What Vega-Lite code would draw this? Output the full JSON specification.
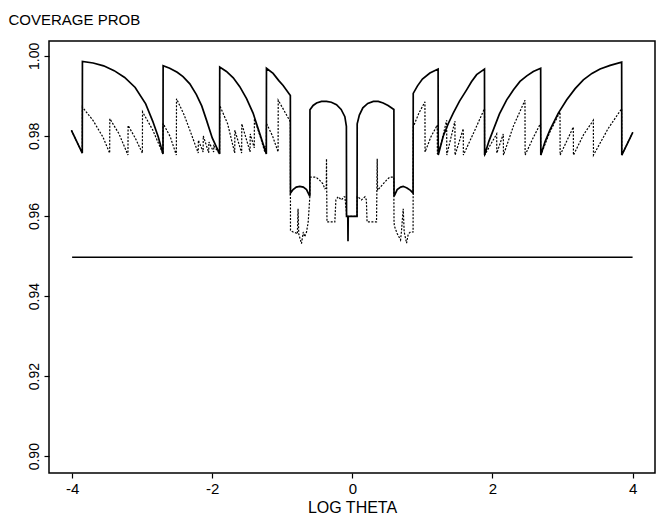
{
  "$schema": "https://vega.github.io/schema/vega-lite/v6.json",
  "width": 606,
  "height": 432,
  "autosize": {"type": "none"},
  "padding": {"left": 49, "top": 41, "right": 5, "bottom": 48},
  "background": "white",
  "config": {
    "view": {"stroke": "black", "strokeWidth": 1.5},
    "font": "Liberation Sans",
    "axis": {"grid": false, "domain": false, "tickColor": "black", "tickWidth": 1.2, "labelColor": "black", "titleColor": "black", "labelFont": "Liberation Sans", "titleFont": "Liberation Sans", "titleFontWeight": "normal"}
  },
  "datasets": {
    "solid": [
      {"x": -4.01, "y": 0.9814}, {"x": -3.855, "y": 0.9757}, {"x": -3.853, "y": 0.9986},
      {"x": -3.70, "y": 0.9982}, {"x": -3.55, "y": 0.9975}, {"x": -3.40, "y": 0.9963},
      {"x": -3.25, "y": 0.9946}, {"x": -3.10, "y": 0.9921}, {"x": -2.95, "y": 0.9880},
      {"x": -2.85, "y": 0.9837}, {"x": -2.77, "y": 0.9797}, {"x": -2.703, "y": 0.9755},
      {"x": -2.701, "y": 0.9975}, {"x": -2.607, "y": 0.9969}, {"x": -2.50, "y": 0.9959},
      {"x": -2.417, "y": 0.9948}, {"x": -2.32, "y": 0.9930}, {"x": -2.226, "y": 0.9903},
      {"x": -2.15, "y": 0.9875}, {"x": -2.083, "y": 0.9840}, {"x": -2.0, "y": 0.9795},
      {"x": -1.895, "y": 0.9755}, {"x": -1.893, "y": 0.9972}, {"x": -1.797, "y": 0.9961},
      {"x": -1.70, "y": 0.9945}, {"x": -1.607, "y": 0.9923}, {"x": -1.51, "y": 0.9893},
      {"x": -1.417, "y": 0.9857}, {"x": -1.33, "y": 0.9810}, {"x": -1.228, "y": 0.9755},
      {"x": -1.226, "y": 0.9969}, {"x": -1.131, "y": 0.9956}, {"x": -1.05, "y": 0.9938},
      {"x": -0.988, "y": 0.9926}, {"x": -0.885, "y": 0.9901}, {"x": -0.883, "y": 0.9657},
      {"x": -0.846, "y": 0.9666}, {"x": -0.80, "y": 0.9672}, {"x": -0.75, "y": 0.9674},
      {"x": -0.70, "y": 0.9672}, {"x": -0.654, "y": 0.9666}, {"x": -0.607, "y": 0.9649},
      {"x": -0.605, "y": 0.9865}, {"x": -0.56, "y": 0.9876}, {"x": -0.511, "y": 0.9882},
      {"x": -0.44, "y": 0.9886}, {"x": -0.369, "y": 0.9886}, {"x": -0.30, "y": 0.9884},
      {"x": -0.226, "y": 0.9878}, {"x": -0.16, "y": 0.9866}, {"x": -0.107, "y": 0.9848},
      {"x": -0.085, "y": 0.9824}, {"x": -0.083, "y": 0.9599}, {"x": -0.065, "y": 0.9599},
      {"x": -0.062, "y": 0.9537}, {"x": -0.059, "y": 0.9599}, {"x": 0.067, "y": 0.9599},
      {"x": 0.069, "y": 0.9830}, {"x": 0.10, "y": 0.9852}, {"x": 0.15, "y": 0.9870},
      {"x": 0.22, "y": 0.9881}, {"x": 0.30, "y": 0.9886}, {"x": 0.37, "y": 0.9886},
      {"x": 0.44, "y": 0.9882}, {"x": 0.51, "y": 0.9876}, {"x": 0.593, "y": 0.9866},
      {"x": 0.595, "y": 0.9649}, {"x": 0.64, "y": 0.9666}, {"x": 0.69, "y": 0.9672},
      {"x": 0.726, "y": 0.9674}, {"x": 0.78, "y": 0.9670}, {"x": 0.83, "y": 0.9664},
      {"x": 0.867, "y": 0.9657}, {"x": 0.869, "y": 0.9906}, {"x": 0.93, "y": 0.9925},
      {"x": 1.0, "y": 0.9942}, {"x": 1.107, "y": 0.9957}, {"x": 1.224, "y": 0.9967},
      {"x": 1.226, "y": 0.9752}, {"x": 1.297, "y": 0.9799}, {"x": 1.37, "y": 0.9831},
      {"x": 1.44, "y": 0.9857}, {"x": 1.53, "y": 0.9887}, {"x": 1.631, "y": 0.9915},
      {"x": 1.70, "y": 0.9935}, {"x": 1.774, "y": 0.9953}, {"x": 1.886, "y": 0.9967},
      {"x": 1.888, "y": 0.9752}, {"x": 1.95, "y": 0.9787}, {"x": 2.012, "y": 0.9815},
      {"x": 2.10, "y": 0.9855}, {"x": 2.203, "y": 0.9890}, {"x": 2.30, "y": 0.9915},
      {"x": 2.393, "y": 0.9936}, {"x": 2.49, "y": 0.9950}, {"x": 2.583, "y": 0.9961},
      {"x": 2.688, "y": 0.9969}, {"x": 2.69, "y": 0.9752}, {"x": 2.75, "y": 0.9785},
      {"x": 2.821, "y": 0.9815}, {"x": 2.94, "y": 0.9857}, {"x": 3.06, "y": 0.9890},
      {"x": 3.18, "y": 0.9918}, {"x": 3.297, "y": 0.9940}, {"x": 3.42, "y": 0.9956},
      {"x": 3.536, "y": 0.9967}, {"x": 3.68, "y": 0.9976}, {"x": 3.844, "y": 0.9984},
      {"x": 3.846, "y": 0.9752}, {"x": 4.003, "y": 0.9809}
    ],
    "dashed": [
      {"x": -4.01, "y": 0.9814}, {"x": -3.855, "y": 0.9757}, {"x": -3.853, "y": 0.9872},
      {"x": -3.703, "y": 0.9839}, {"x": -3.56, "y": 0.9797}, {"x": -3.464, "y": 0.9757},
      {"x": -3.462, "y": 0.9843}, {"x": -3.33, "y": 0.9805}, {"x": -3.203, "y": 0.9752},
      {"x": -3.201, "y": 0.9826}, {"x": -3.10, "y": 0.9795}, {"x": -2.997, "y": 0.9757},
      {"x": -2.995, "y": 0.9860}, {"x": -2.85, "y": 0.9815}, {"x": -2.703, "y": 0.9755},
      {"x": -2.701, "y": 0.9831}, {"x": -2.60, "y": 0.9798}, {"x": -2.512, "y": 0.9752},
      {"x": -2.510, "y": 0.9893}, {"x": -2.40, "y": 0.9852}, {"x": -2.30, "y": 0.9805},
      {"x": -2.20, "y": 0.9757}, {"x": -2.198, "y": 0.9789}, {"x": -2.13, "y": 0.9760},
      {"x": -2.128, "y": 0.9800}, {"x": -2.05, "y": 0.9758}, {"x": -2.048, "y": 0.9785},
      {"x": -1.98, "y": 0.9760}, {"x": -1.978, "y": 0.9775}, {"x": -1.895, "y": 0.9755},
      {"x": -1.893, "y": 0.9876}, {"x": -1.78, "y": 0.9830}, {"x": -1.679, "y": 0.9757},
      {"x": -1.677, "y": 0.9814}, {"x": -1.58, "y": 0.9757}, {"x": -1.578, "y": 0.9830},
      {"x": -1.46, "y": 0.9760}, {"x": -1.458, "y": 0.9805}, {"x": -1.40, "y": 0.9770},
      {"x": -1.398, "y": 0.9843}, {"x": -1.30, "y": 0.9790}, {"x": -1.25, "y": 0.9760},
      {"x": -1.248, "y": 0.9775}, {"x": -1.228, "y": 0.9757}, {"x": -1.226, "y": 0.9831},
      {"x": -1.14, "y": 0.9800}, {"x": -1.06, "y": 0.9760}, {"x": -1.058, "y": 0.9889},
      {"x": -0.98, "y": 0.9865}, {"x": -0.885, "y": 0.9835}, {"x": -0.883, "y": 0.9564},
      {"x": -0.846, "y": 0.9560}, {"x": -0.81, "y": 0.9558}, {"x": -0.785, "y": 0.9555},
      {"x": -0.775, "y": 0.9618}, {"x": -0.765, "y": 0.9555}, {"x": -0.726, "y": 0.9531},
      {"x": -0.70, "y": 0.9560}, {"x": -0.68, "y": 0.9548}, {"x": -0.654, "y": 0.9560},
      {"x": -0.63, "y": 0.9585}, {"x": -0.607, "y": 0.9648}, {"x": -0.605, "y": 0.9697},
      {"x": -0.52, "y": 0.9697}, {"x": -0.464, "y": 0.9689}, {"x": -0.42, "y": 0.9680},
      {"x": -0.393, "y": 0.9668}, {"x": -0.372, "y": 0.9670}, {"x": -0.369, "y": 0.9743},
      {"x": -0.366, "y": 0.9668}, {"x": -0.362, "y": 0.9585}, {"x": -0.25, "y": 0.9585},
      {"x": -0.235, "y": 0.9640}, {"x": -0.202, "y": 0.9648}, {"x": -0.155, "y": 0.9640},
      {"x": -0.12, "y": 0.9648}, {"x": -0.107, "y": 0.9648}, {"x": -0.085, "y": 0.9610},
      {"x": -0.083, "y": 0.9599}, {"x": 0.067, "y": 0.9599}, {"x": 0.069, "y": 0.9648},
      {"x": 0.10, "y": 0.9645}, {"x": 0.13, "y": 0.9640}, {"x": 0.18, "y": 0.9648},
      {"x": 0.20, "y": 0.9640}, {"x": 0.21, "y": 0.9585}, {"x": 0.345, "y": 0.9585},
      {"x": 0.350, "y": 0.9660}, {"x": 0.355, "y": 0.9743}, {"x": 0.36, "y": 0.9664},
      {"x": 0.40, "y": 0.9672}, {"x": 0.44, "y": 0.9680}, {"x": 0.50, "y": 0.9692},
      {"x": 0.536, "y": 0.9697}, {"x": 0.591, "y": 0.9697}, {"x": 0.595, "y": 0.9585},
      {"x": 0.60, "y": 0.9575}, {"x": 0.64, "y": 0.9556}, {"x": 0.688, "y": 0.9540},
      {"x": 0.70, "y": 0.9560}, {"x": 0.726, "y": 0.9618}, {"x": 0.74, "y": 0.9560},
      {"x": 0.774, "y": 0.9532}, {"x": 0.798, "y": 0.9555}, {"x": 0.83, "y": 0.9560},
      {"x": 0.867, "y": 0.9560}, {"x": 0.869, "y": 0.9822}, {"x": 0.95, "y": 0.9857},
      {"x": 1.036, "y": 0.9885}, {"x": 1.038, "y": 0.9760}, {"x": 1.12, "y": 0.9797},
      {"x": 1.212, "y": 0.9827}, {"x": 1.214, "y": 0.9755}, {"x": 1.26, "y": 0.9775},
      {"x": 1.346, "y": 0.9839}, {"x": 1.348, "y": 0.9752}, {"x": 1.464, "y": 0.9837},
      {"x": 1.466, "y": 0.9752}, {"x": 1.583, "y": 0.9818}, {"x": 1.585, "y": 0.9752},
      {"x": 1.75, "y": 0.9815}, {"x": 1.886, "y": 0.9868}, {"x": 1.888, "y": 0.9752},
      {"x": 2.06, "y": 0.9805}, {"x": 2.062, "y": 0.9757}, {"x": 2.155, "y": 0.9805},
      {"x": 2.157, "y": 0.9752}, {"x": 2.30, "y": 0.9825}, {"x": 2.464, "y": 0.9889},
      {"x": 2.466, "y": 0.9752}, {"x": 2.58, "y": 0.9795}, {"x": 2.686, "y": 0.9831},
      {"x": 2.69, "y": 0.9752}, {"x": 2.82, "y": 0.9810}, {"x": 2.964, "y": 0.9860},
      {"x": 2.966, "y": 0.9752}, {"x": 3.154, "y": 0.9822}, {"x": 3.156, "y": 0.9752},
      {"x": 3.30, "y": 0.9803}, {"x": 3.44, "y": 0.9839}, {"x": 3.442, "y": 0.9752},
      {"x": 3.65, "y": 0.9818}, {"x": 3.844, "y": 0.9868}, {"x": 3.846, "y": 0.9752},
      {"x": 4.003, "y": 0.9809}
    ],
    "ref": [
      {"x": -4.0, "y": 0.9497}, {"x": 4.0, "y": 0.9497}
    ]
  },
  "layer": [
    {
      "data": {"name": "ref"},
      "mark": {"type": "line", "color": "black", "strokeWidth": 1.6, "clip": true},
      "encoding": {
        "x": {
          "field": "x", "type": "quantitative",
          "scale": {"domain": [-4.33, 4.32], "nice": false, "zero": false},
          "axis": {"values": [-4, -2, 0, 2, 4], "title": "LOG THETA", "labelFontSize": 15, "titleFontSize": 16, "tickSize": 5, "labelPadding": 3, "titlePadding": 3, "labelExpr": "datum.value < 0 ? '-' + abs(datum.value) : '' + datum.value"}
        },
        "y": {
          "field": "y", "type": "quantitative",
          "scale": {"domain": [0.8958, 1.0037], "nice": false, "zero": false},
          "axis": {"values": [0.90, 0.92, 0.94, 0.96, 0.98, 1.00], "format": ".2f", "labelAngle": -90, "labelAlign": "center", "labelBaseline": "bottom", "labelFontSize": 14, "tickSize": 5, "labelPadding": 3, "title": "COVERAGE PROB", "titleAngle": 0, "titleAlign": "left", "titleBaseline": "middle", "titleX": -41, "titleY": -22, "titleFontSize": 15}
        }
      }
    },
    {
      "data": {"name": "dashed"},
      "mark": {"type": "line", "color": "black", "strokeWidth": 1.2, "strokeDash": [2, 1.5], "clip": true},
      "encoding": {
        "x": {"field": "x", "type": "quantitative"},
        "y": {"field": "y", "type": "quantitative"}
      }
    },
    {
      "data": {"name": "solid"},
      "mark": {"type": "line", "color": "black", "strokeWidth": 1.7, "clip": true},
      "encoding": {
        "x": {"field": "x", "type": "quantitative"},
        "y": {"field": "y", "type": "quantitative"}
      }
    }
  ]
}
